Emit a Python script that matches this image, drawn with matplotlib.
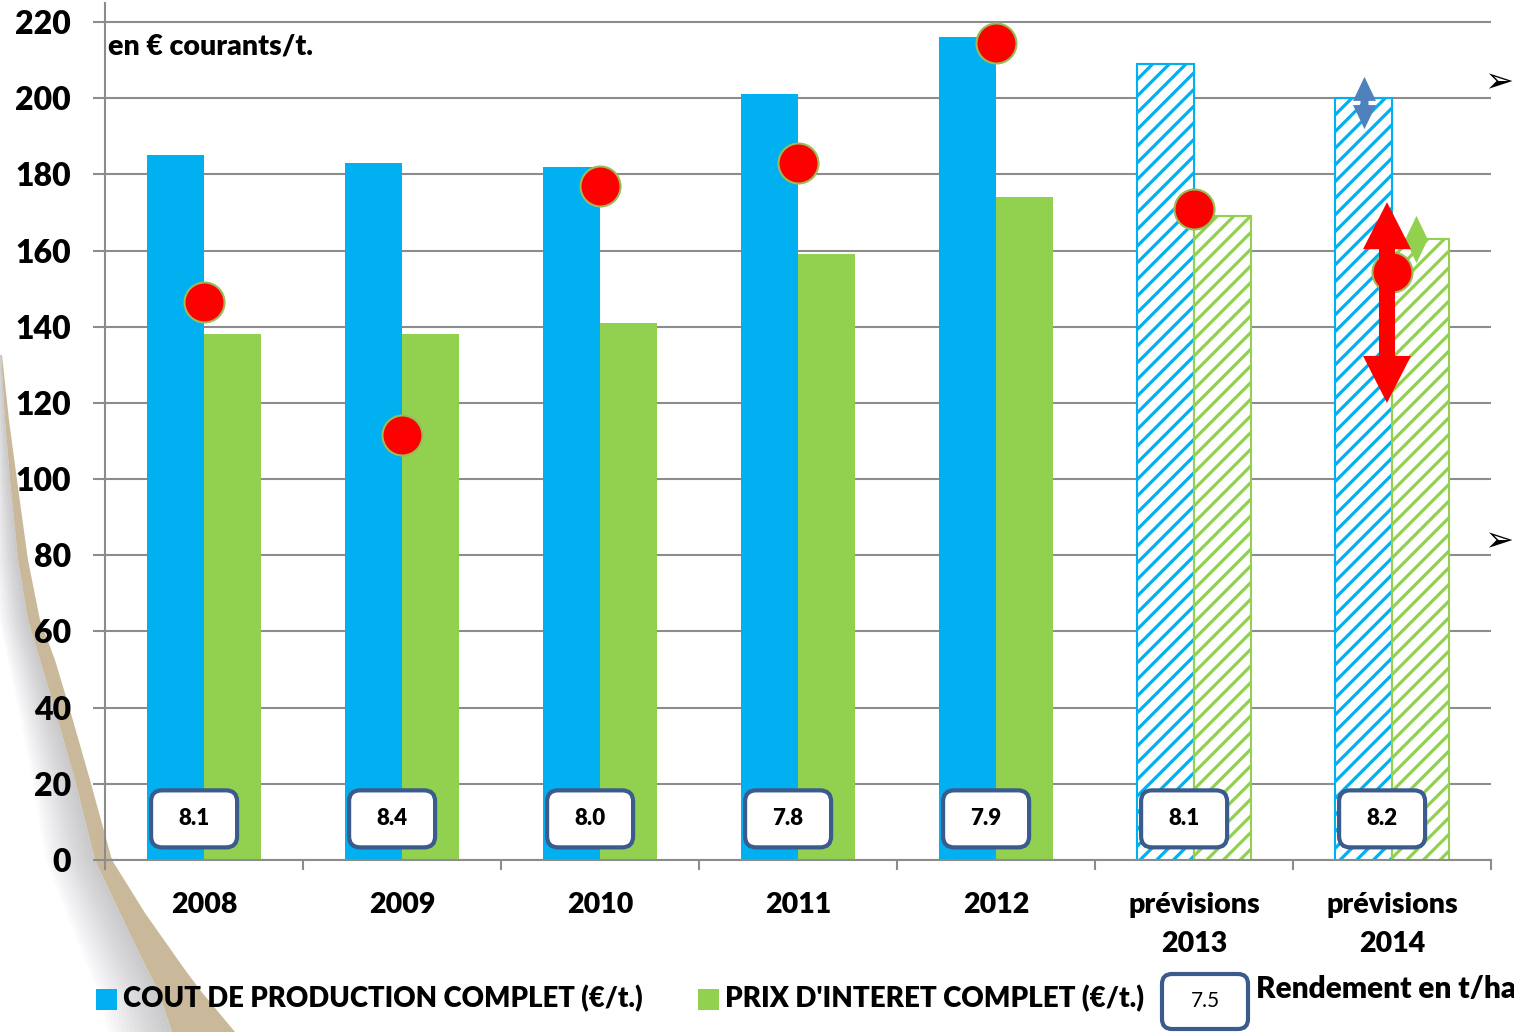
import matplotlib

matplotlib.use("Agg")
import matplotlib.pyplot as plt
import numpy as np
from matplotlib.patches import FancyBboxPatch, Polygon, Rectangle

# ---------------------------------------------------------------------------
# Data (€ courants / t)
# ---------------------------------------------------------------------------
CATEGORIES = ["2008", "2009", "2010", "2011", "2012",
              "prévisions\n2013", "prévisions\n2014"]
COUT_PRODUCTION = [185, 183, 182, 201, 216, 209, 200]
PRIX_INTERET = [138, 138, 141, 159, 174, 169, 163]
PRIX_MARCHE = [146.5, 111.5, 177, 183, 214.5, 171, 154.5]
RENDEMENT = [8.1, 8.4, 8.0, 7.8, 7.9, 8.1, 8.2]
PREVISION = [False, False, False, False, False, True, True]
Y_TICKS = list(range(0, 221, 20))

LEGEND_LABELS = ["COUT DE PRODUCTION COMPLET (€/t.)",
                 "PRIX D'INTERET COMPLET (€/t.)",
                 "Rendement en t/ha"]
LEGEND_RENDEMENT = 7.5

# 2014 uncertainty ranges (low, high) drawn as double arrows
FOURCHETTE_MARCHE = (120.0, 172.7)
FOURCHETTE_COUT = (191.9, 205.6)
FOURCHETTE_PRIX = (156.7, 169.1)

# Colours
BLUE = "#00B0F0"
GREEN = "#92D050"
RED = "#FF0000"
DOT_EDGE = "#9BBB59"
BOX_EDGE = "#3B5B8C"
ARROW_BLUE = "#4F81BD"
GRID = "#8C8C8C"
BEIGE = "#C9B99A"

# Figure geometry (pixels)
FIG_W, FIG_H = 1514, 1032
AX_L, AX_R, AX_T, AX_B = 105, 1491, 3, 860
XLIM = (-0.5, 6.5)
YLIM = (0, 225)
DX_PX = (XLIM[1] - XLIM[0]) / (AX_R - AX_L)
DY_PX = (YLIM[1] - YLIM[0]) / (AX_B - AX_T)

plt.rcParams["font.family"] = ["Lato", "DejaVu Sans"]
plt.rcParams["font.weight"] = "heavy"
plt.rcParams["hatch.linewidth"] = 2.3


def double_arrow(ax, x, lo, hi, shaft_px, head_w_px, head_len_px, color, z):
    sw = shaft_px * DX_PX / 2
    hw = head_w_px * DX_PX / 2
    hl = head_len_px * DY_PX
    verts = [
        (x, hi), (x + hw, hi - hl), (x + sw, hi - hl), (x + sw, lo + hl),
        (x + hw, lo + hl), (x, lo), (x - hw, lo + hl), (x - sw, lo + hl),
        (x - sw, hi - hl), (x - hw, hi - hl),
    ]
    ax.add_patch(Polygon(verts, closed=True, facecolor=color,
                         edgecolor="none", zorder=z))


def interp_edge(points, ys):
    px = np.array([p[0] for p in points], dtype=float)
    py = np.array([p[1] for p in points], dtype=float)
    return np.interp(ys, py, px)


fig = plt.figure(figsize=(FIG_W / 100, FIG_H / 100), dpi=100, facecolor="white")

# ---------------------------------------------------------------------------
# Background: page-curl decoration on the left
# ---------------------------------------------------------------------------
bg = fig.add_axes([0, 0, 1, 1], zorder=0)
bg.set_xlim(0, FIG_W)
bg.set_ylim(FIG_H, 0)
bg.axis("off")

left_edge = [(1, 355), (5, 420), (10, 480), (18, 560), (28, 620), (40, 660),
             (55, 710), (75, 780), (95, 860), (120, 913), (146, 967),
             (158, 990), (172, 1032)]
right_edge = [(2, 355), (9, 420), (17, 480), (28, 560), (40, 620), (55, 660),
              (70, 710), (90, 780), (112, 860), (145, 913), (183, 967),
              (200, 990), (235, 1032)]
ys = np.linspace(355, 1032, 160)
lx = interp_edge(left_edge, ys)
rx = interp_edge(right_edge, ys)

# soft grey shadow left of the curl
n_shadow = 14
for k in range(n_shadow):
    width = (6 + (ys - 355) * 0.085) * (k + 1) / n_shadow
    pts = list(zip(lx - width, ys)) + list(zip(lx[::-1], ys[::-1]))
    bg.add_patch(Polygon(pts, closed=True, facecolor="#7a7a80",
                         edgecolor="none", alpha=0.03))
bg.add_patch(Polygon(list(zip(lx, ys)) + list(zip(rx[::-1], ys[::-1])),
                     closed=True, facecolor=BEIGE, edgecolor="none"))

# ---------------------------------------------------------------------------
# Main chart
# ---------------------------------------------------------------------------
ax = fig.add_axes([AX_L / FIG_W, (FIG_H - AX_B) / FIG_H,
                   (AX_R - AX_L) / FIG_W, (AX_B - AX_T) / FIG_H],
                  facecolor="none", zorder=2)
x = np.arange(len(CATEGORIES))
bw = 0.29

cost_bars = ax.bar(x - bw / 2, COUT_PRODUCTION, bw, color=BLUE, linewidth=0, zorder=2)
price_bars = ax.bar(x + bw / 2, PRIX_INTERET, bw, color=GREEN, linewidth=0, zorder=2)
for bars, col in ((cost_bars, BLUE), (price_bars, GREEN)):
    for patch, prev in zip(bars, PREVISION):
        if prev:
            patch.set_facecolor("white")
            patch.set_hatch("//")
            patch.set_edgecolor(col)
            patch.set_linewidth(1.5)

ax.scatter(x, PRIX_MARCHE, s=830, c=RED, edgecolors=DOT_EDGE,
           linewidths=1.5, zorder=5)

# uncertainty arrows on 2014
double_arrow(ax, 6 - 27.5 / 198, *FOURCHETTE_COUT, 8, 23, 24, ARROW_BLUE, 4)
double_arrow(ax, 6 + 24.5 / 198, *FOURCHETTE_PRIX, 8, 23, 24, GREEN, 4)
double_arrow(ax, 6 - 5 / 198, *FOURCHETTE_MARCHE, 16, 48, 47, RED, 6)

# yield boxes
box_w, box_h = 86 * DX_PX, 57 * DY_PX
for xi, rdt in zip(x, RENDEMENT):
    cx, cy = xi - 0.05, 10.8
    ax.add_patch(FancyBboxPatch(
        (cx - box_w / 2, cy - box_h / 2), box_w, box_h,
        boxstyle=f"round,pad=0,rounding_size={11 * DX_PX}",
        mutation_aspect=DY_PX / DX_PX,
        facecolor="white", edgecolor=BOX_EDGE, linewidth=3, zorder=7))
    ax.text(cx, cy, f"{rdt:.1f}", ha="center", va="center",
            fontsize=16, zorder=8)

ax.set_xlim(*XLIM)
ax.set_ylim(*YLIM)
ax.set_yticks(Y_TICKS)
ax.set_xticks(x, CATEGORIES)
ax.set_xticks(np.arange(-0.5, len(CATEGORIES)), minor=True)
ax.grid(axis="y", color=GRID, linewidth=1.5)
ax.set_axisbelow(True)
ax.tick_params(axis="y", length=8.6, width=1.5, color=GRID, pad=16,
               labelsize=23)
ax.tick_params(axis="x", which="major", length=0, pad=23, labelsize=20.5)
ax.tick_params(axis="x", which="minor", length=7, width=1.5, color=GRID)
for lbl in ax.get_xticklabels():
    lbl.set_linespacing(1.6)
for side in ("top", "right"):
    ax.spines[side].set_visible(False)
for side in ("left", "bottom"):
    ax.spines[side].set_color(GRID)
    ax.spines[side].set_linewidth(1.5)

# ---------------------------------------------------------------------------
# Overlay: unit note, legend, bullet glyphs (pixel coordinates)
# ---------------------------------------------------------------------------
ov = fig.add_axes([0, 0, 1, 1], zorder=3, facecolor="none")
ov.set_xlim(0, FIG_W)
ov.set_ylim(FIG_H, 0)
ov.axis("off")

ov.text(108, 47, "en € courants/t.", ha="left", va="center", fontsize=20.5)

for yb in (82, 541):
    ov.text(1513, yb, "➢", family=["DejaVu Sans"], ha="right", va="center",
            fontsize=25, color="black", fontweight="normal")

ov.add_patch(Rectangle((96, 989), 21, 21, facecolor=BLUE, edgecolor="none"))
ov.text(123, 999, LEGEND_LABELS[0], ha="left", va="center", fontsize=19.8)
ov.add_patch(Rectangle((698, 989), 21, 21, facecolor=GREEN, edgecolor="none"))
ov.text(725, 999, LEGEND_LABELS[1], ha="left", va="center", fontsize=20)
ov.add_patch(FancyBboxPatch((1162, 974), 86, 55,
                            boxstyle="round,pad=0,rounding_size=10",
                            facecolor="white", edgecolor=BOX_EDGE, linewidth=3))
ov.text(1205, 1001, f"{LEGEND_RENDEMENT:.1f}", ha="center", va="center",
        fontsize=15, fontweight="normal")
ov.text(1256, 989, LEGEND_LABELS[2], ha="left", va="center", fontsize=21.5)

fig.savefig("out.png", dpi=100, facecolor="white")
